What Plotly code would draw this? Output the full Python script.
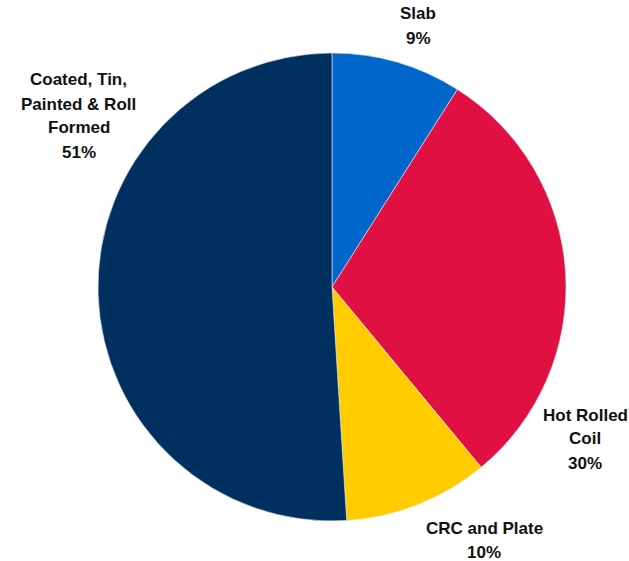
import plotly.graph_objects as go

# Product mix shares (%)
categories = ["Slab", "Hot Rolled Coil", "CRC and Plate", "Coated, Tin, Painted & Roll Formed"]
label_lines = [["Slab"], ["Hot Rolled", "Coil"], ["CRC and Plate"], ["Coated, Tin,", "Painted &amp; Roll", "Formed"]]
shares = [9, 30, 10, 51]
colors = ["#0066CC", "#E01042", "#FFCC00", "#003060"]

W, H = 629, 561
LINE_H = 24
# label block centres in pixels
label_pos = [(418, 26), (585, 439), (484, 540), (79, 116)]

fig = go.Figure(go.Pie(
    labels=categories,
    values=shares,
    sort=False,
    direction="clockwise",
    rotation=0,
    marker=dict(colors=colors, line=dict(color="#E8E8E8", width=0.6)),
    textinfo="none",
    hoverinfo="label+percent",
    showlegend=False,
    domain=dict(x=[98 / W, 566 / W], y=[1 - 521 / H, 1 - 53 / H]),
))

for lines, v, (px, py) in zip(label_lines, shares, label_pos):
    rows = lines + [f"{v}%"]
    top = py - (len(rows) - 1) * LINE_H / 2
    for i, row in enumerate(rows):
        fig.add_annotation(
            x=px / W, y=1 - (top + i * LINE_H) / H, xref="paper", yref="paper",
            xanchor="center", yanchor="middle",
            text=f"<b>{row}</b>", showarrow=False, align="center",
            font=dict(family="Arial, Liberation Sans, sans-serif", size=17, color="#111111"),
        )

fig.update_layout(
    width=W, height=H,
    margin=dict(l=0, r=0, t=0, b=0),
    paper_bgcolor="white", plot_bgcolor="white",
)

fig.write_html("out.html")
